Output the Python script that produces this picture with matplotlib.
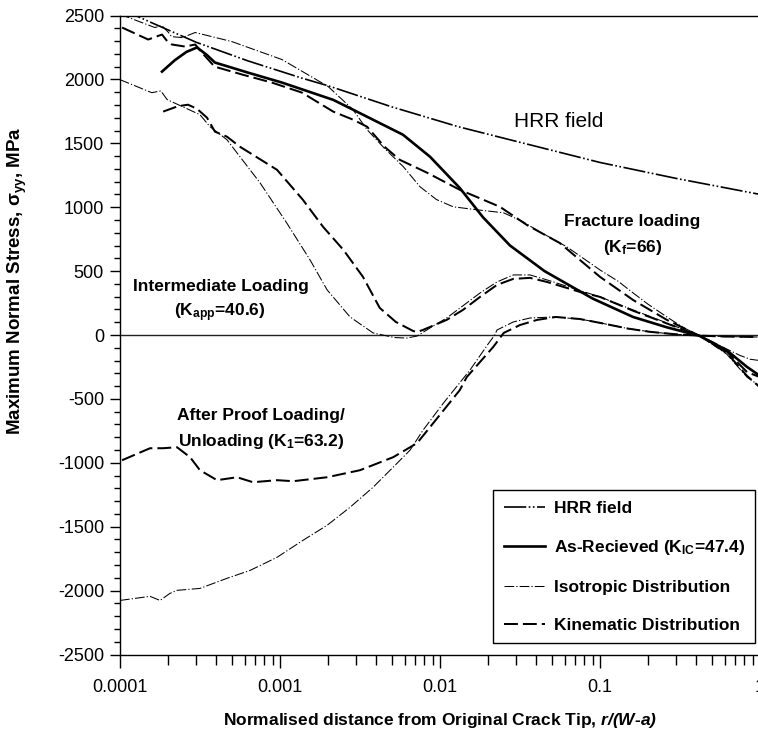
"""Maximum normal stress ahead of the crack tip vs normalised distance."""
import matplotlib
matplotlib.use("Agg")
import matplotlib.pyplot as plt
from matplotlib.lines import Line2D
from matplotlib.ticker import LogLocator, MultipleLocator, NullFormatter

plt.rcParams["font.family"] = ["Liberation Sans", "DejaVu Sans"]
plt.rcParams["mathtext.fontset"] = "custom"
plt.rcParams["mathtext.rm"] = "Liberation Sans"
plt.rcParams["mathtext.it"] = "Liberation Sans:italic"
plt.rcParams["mathtext.bf"] = "Liberation Sans:bold"
plt.rcParams["mathtext.bfit"] = "Liberation Sans:bold:italic"
plt.rcParams["lines.scale_dashes"] = False
plt.rcParams["axes.unicode_minus"] = False

# ---- data (x = r/(W-a), y = sigma_yy in MPa) ----
hrr_x = [1.0e-4, 1.6e-4, 3.0e-4, 6.3e-4, 1.37e-3, 2.0e-3, 5.0e-3, 1.3e-2, 3.0e-2, 0.1, 0.3, 1.0]
hrr_y = [2555, 2440, 2290, 2145, 2010, 1950, 1785, 1630, 1515, 1350, 1225, 1100]

# As-received, K_IC = 47.4
asrec_x = [1.83e-4, 2.2e-4, 2.6e-4, 3.03e-4, 3.5e-4, 3.92e-4, 6.31e-4, 1.03e-3, 2.15e-3,
           2.86e-3, 5.87e-3, 8.66e-3, 1.33e-2, 1.86e-2, 2.74e-2, 4.5e-2, 9.0e-2, 0.161,
           0.262, 0.422, 0.62, 0.83, 1.0]
asrec_y = [2061, 2150, 2215, 2250, 2190, 2132, 2053, 1975, 1840,
           1763, 1567, 1395, 1150, 920, 700, 500, 285, 141,
           60, -8, -120, -250, -320]

# Fracture loading, K_f = 66
frac_iso_x = [1.0e-4, 1.65e-4, 1.83e-4, 2.0e-4, 2.1e-4, 2.45e-4, 2.95e-4, 5.0e-4, 1.03e-3,
              2.0e-3, 2.86e-3, 3.5e-3, 4.5e-3, 5.9e-3, 7.5e-3, 9.5e-3, 1.21e-2, 1.7e-2,
              2.5e-2, 3.3e-2, 4.0e-2, 6.2e-2, 0.1, 0.13, 0.161, 0.2, 0.262, 0.33, 0.422,
              0.5, 0.62, 0.75, 0.87, 1.0]
frac_iso_y = [2510, 2406, 2420, 2370, 2335, 2327, 2367, 2296, 2155,
              1944, 1763, 1607, 1460, 1317, 1160, 1060, 1003, 980,
              956, 886, 823, 690, 509, 420, 329, 240, 141, 60, -8,
              -50, -110, -160, -190, -200]
frac_kin_x = [1.03e-4, 1.5e-4, 1.83e-4, 1.97e-4, 2.11e-4, 2.55e-4, 2.95e-4, 3.3e-4, 3.9e-4,
              5.8e-4, 8.9e-4, 1.37e-3, 2.15e-3, 2.86e-3, 3.5e-3, 4.5e-3, 5.6e-3, 8.3e-3,
              1.33e-2, 2.37e-2, 3.5e-2, 5.6e-2, 0.1, 0.161, 0.262, 0.422, 0.62, 0.83, 1.0]
frac_kin_y = [2406, 2312, 2351, 2300, 2273, 2257, 2273, 2200, 2100,
              2038, 1975, 1897, 1748, 1685, 1630, 1473, 1371, 1270,
              1136, 1003, 860, 720, 455, 274, 118, -8, -130, -290, -330]

# Intermediate loading, K_app = 40.6
int_iso_x = [1.0e-4, 1.58e-4, 1.8e-4, 1.97e-4, 3.16e-4, 3.65e-4, 4.66e-4, 5.62e-4, 7.5e-4,
             1.1e-3, 1.54e-3, 1.97e-3, 2.74e-3, 3.82e-3, 5.2e-3, 6.2e-3, 7.2e-3, 8.66e-3,
             1.1e-2, 1.47e-2, 1.78e-2, 2.27e-2, 2.87e-2, 3.65e-2, 4.67e-2, 0.1, 0.161,
             0.262, 0.422, 0.62, 0.83, 1.0]
int_iso_y = [1998, 1896, 1910, 1842, 1724, 1630, 1528, 1395, 1191,
             878, 588, 353, 141, 16, -20, -24, -8, 55,
             133, 251, 329, 415, 470, 470, 431, 298, 196,
             94, -8, -150, -330, -400]
int_kin_x = [1.86e-4, 2.3e-4, 2.66e-4, 3.03e-4, 3.5e-4, 3.92e-4, 4.66e-4, 5.62e-4, 9.57e-4,
             1.39e-3, 1.86e-3, 2.49e-3, 3.3e-3, 4.2e-3, 5.3e-3, 6.8e-3, 7.2e-3, 7.8e-3,
             1.1e-2, 1.39e-2, 1.78e-2, 2.27e-2, 2.87e-2, 3.65e-2, 4.67e-2, 7.5e-2, 0.1,
             0.161, 0.262, 0.422, 0.62, 0.83, 1.0]
int_kin_y = [1748, 1790, 1802, 1770, 1700, 1591, 1552, 1473, 1293,
             1058, 846, 666, 455, 212, 102, 31, 24, 39,
             118, 196, 298, 392, 439, 447, 415, 337, 298,
             190, 90, -8, -140, -320, -410]

# After proof loading / unloading, K_1 = 63.2
ap_iso_x = [1.0e-4, 1.54e-4, 1.78e-4, 2.05e-4, 2.27e-4, 3.16e-4, 4.66e-4, 6.5e-4, 9.57e-4,
            1.39e-3, 1.97e-3, 2.74e-3, 3.82e-3, 5.1e-3, 6.5e-3, 7.83e-3, 1.05e-2, 1.54e-2,
            2.0e-2, 2.2e-2, 2.27e-2, 2.87e-2, 3.65e-2, 5.1e-2, 7.5e-2, 0.1, 0.15, 0.205,
            0.3, 0.422, 0.6, 1.0]
ap_iso_y = [-2077, -2045, -2077, -2022, -1998, -1983, -1904, -1842, -1740,
            -1607, -1489, -1348, -1191, -1034, -901, -745, -533, -274,
            -70, 0, 39, 102, 133, 141, 125, 95, 50, 25,
            5, -5, -12, -16]
ap_kin_x = [1.03e-4, 1.54e-4, 1.86e-4, 2.27e-4, 2.74e-4, 3.16e-4, 4.04e-4, 5.39e-4, 6.78e-4,
            9.57e-4, 1.21e-3, 1.97e-3, 3.16e-3, 5.1e-3, 7.19e-3, 8.66e-3, 1.33e-2, 1.47e-2,
            2.15e-2, 2.5e-2, 3.16e-2, 4.04e-2, 5.3e-2, 7.5e-2, 0.1, 0.15, 0.205, 0.3,
            0.422, 0.6, 1.0]
ap_kin_y = [-980, -886, -886, -878, -956, -1058, -1136, -1113, -1152,
            -1136, -1144, -1113, -1058, -956, -846, -721, -431, -329,
            -94, 16, 78, 118, 141, 125, 95, 50, 25, 5,
            -5, -12, -16]

xtick_vals = [1e-4, 1e-3, 1e-2, 1e-1, 1]
xtick_labels = ["0.0001", "0.001", "0.01", "0.1", "1"]

# ---- line styles ----
hrr_style = dict(color="black", lw=1.2, ls=(0, (16, 1.8, 1.2, 1.8, 1.2, 1.8)))
solid_style = dict(color="black", lw=1.9, ls="-")
iso_style = dict(color="black", lw=0.75, ls=(0, (7, 1.5, 0.9, 1.5)))
kin_style = dict(color="black", lw=1.45, ls=(0, (10, 3.6)))

W, H = 758, 733
fig = plt.figure(figsize=(W / 100, H / 100), dpi=100)
ax = fig.add_axes([120 / W, 1 - 654.5 / H, 640 / W, 639 / H])

ax.axhline(0, color="#222222", lw=1.0, zorder=1)

ax.plot(hrr_x, hrr_y, **hrr_style)
ax.plot(asrec_x, asrec_y, **solid_style)
ax.plot(frac_iso_x, frac_iso_y, **iso_style)
ax.plot(frac_kin_x, frac_kin_y, **kin_style)
ax.plot(int_iso_x, int_iso_y, **iso_style)
ax.plot(int_kin_x, int_kin_y, **kin_style)
ax.plot(ap_iso_x, ap_iso_y, **iso_style)
ax.plot(ap_kin_x, ap_kin_y, **kin_style)

ax.set_xscale("log")
ax.set_xlim(1e-4, 1)
ax.set_ylim(-2500, 2500)

ax.set_xticks(xtick_vals)
ax.set_xticklabels(xtick_labels)
ax.xaxis.set_minor_locator(LogLocator(base=10, subs=range(2, 10)))
ax.xaxis.set_minor_formatter(NullFormatter())
ax.yaxis.set_major_locator(MultipleLocator(500))
ax.yaxis.set_minor_locator(MultipleLocator(100))

ax.tick_params(axis="x", which="major", direction="out", length=9, width=1, pad=9,
               labelsize=13, top=False)
ax.tick_params(axis="x", which="minor", direction="out", length=7, width=1, top=False)
ax.tick_params(axis="y", which="major", direction="out", length=7.5, width=1, pad=4,
               labelsize=13, right=False)
ax.tick_params(axis="y", which="minor", direction="out", length=4, width=1, right=False)

for side in ["left", "bottom", "top"]:
    ax.spines[side].set_linewidth(1.0)
ax.spines["right"].set_visible(False)

fig.text(440 / W, 1 - 720 / H,
         r"Normalised distance from Original Crack Tip, $\mathbfit{r/(W}$-$\mathbfit{a)}$",
         ha="center", va="center", fontsize=12.5, fontweight="bold")
fig.text(17 / W, 1 - 281 / H, r"Maximum Normal Stress, σ$_{\mathbf{yy}}$, MPa",
         ha="center", va="center", rotation=90, fontsize=13.5, fontweight="bold")

# ---- annotations ----
ax.text(0.0554, 1669, "HRR field", ha="center", va="center", fontsize=15)
ax.text(0.158, 886, "Fracture loading", ha="center", va="center", fontsize=12.5,
        fontweight="bold")
ax.text(0.161, 682, r"(K$_{\mathbf{f}}$=66)", ha="center", va="center", fontsize=12.5,
        fontweight="bold")
ax.text(4.28e-4, 376, "Intermediate Loading", ha="center", va="center", fontsize=12.5,
        fontweight="bold")
ax.text(4.2e-4, 172, r"(K$_{\mathbf{app}}$=40.6)", ha="center", va="center",
        fontsize=12.5, fontweight="bold")
ax.text(2.27e-4, -627, "After Proof Loading/", ha="left", va="center", fontsize=12.5,
        fontweight="bold")
ax.text(2.3e-4, -831, r"Unloading (K$_{\mathbf{1}}$=63.2)", ha="left", va="center",
        fontsize=12.5, fontweight="bold")

handles = [
    Line2D([], [], **hrr_style),
    Line2D([], [], **solid_style),
    Line2D([], [], **iso_style),
    Line2D([], [], **kin_style),
]
labels = ["HRR field", r"As-Recieved (K$_{\mathbf{IC}}$=47.4)",
          "Isotropic Distribution", "Kinematic Distribution"]
leg = ax.legend(handles, labels, loc="upper left", bbox_to_anchor=(0.583, 0.2574),
                frameon=True, fancybox=False, edgecolor="black", framealpha=1,
                borderpad=0.6, labelspacing=1.3, handlelength=2.4, handletextpad=0.5,
                borderaxespad=0, prop={"weight": "bold", "size": 12.5})
leg.get_frame().set_linewidth(1.0)

fig.savefig("out.png", dpi=100)
